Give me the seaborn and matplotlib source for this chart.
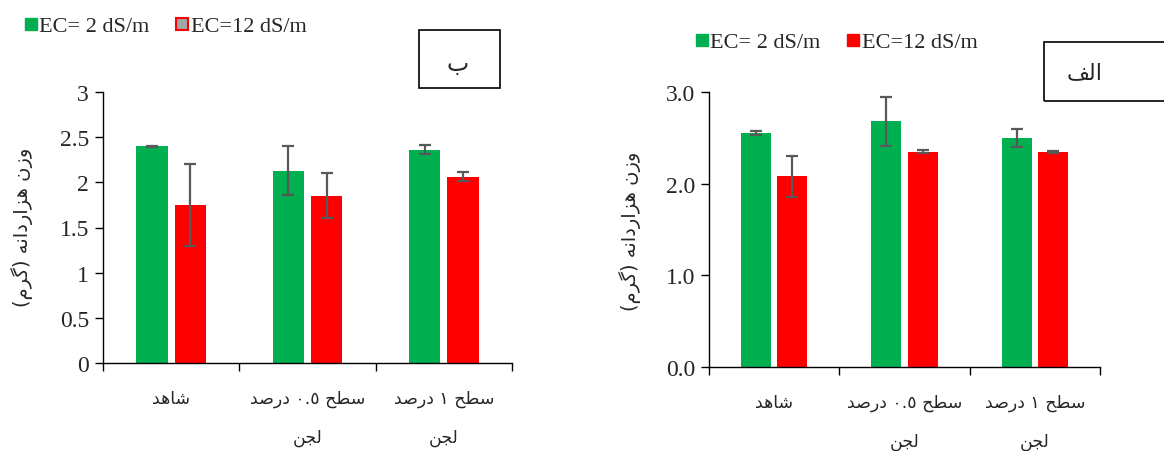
import re
import matplotlib
matplotlib.use("Agg")
import matplotlib.pyplot as plt
from matplotlib.lines import Line2D
from matplotlib.patches import Rectangle
from matplotlib.transforms import blended_transform_factory
import seaborn as sns
import pandas as pd

# ---------------- data ----------------
treatments = ["شاهد", "سطح ٠.٥ درصد\nلجن", "سطح ١ درصد\nلجن"]
ec_levels = ["EC= 2 dS/m", "EC=12 dS/m"]

# panel "ب"
b_low = [2.40, 2.13, 2.36]
b_high = [1.75, 1.85, 2.06]
b_low_err = [0.005, 0.27, 0.05]
b_high_err = [0.45, 0.25, 0.05]

# panel "الف"
a_low = [2.55, 2.68, 2.50]
a_high = [2.08, 2.35, 2.35]
a_low_err = [0.02, 0.27, 0.10]
a_high_err = [0.22, 0.02, 0.01]

y_label = "وزن هزاردانه (گرم)"
panel_names = ["ب", "الف"]

GREEN = "#00B050"
RED = "#FF0000"
ERR = "#595959"

# ---------------- Arabic-script shaping (presentation forms) ----------------
FORMS = {
    "ا": ("\uFE8D", "\uFE8E", None, None),
    "د": ("\uFEA9", "\uFEAA", None, None),
    "ر": ("\uFEAD", "\uFEAE", None, None),
    "ز": ("\uFEAF", "\uFEB0", None, None),
    "و": ("\uFEED", "\uFEEE", None, None),
    "ب": ("\uFE8F", "\uFE90", "\uFE91", "\uFE92"),
    "ج": ("\uFE9D", "\uFE9E", "\uFE9F", "\uFEA0"),
    "ح": ("\uFEA1", "\uFEA2", "\uFEA3", "\uFEA4"),
    "س": ("\uFEB1", "\uFEB2", "\uFEB3", "\uFEB4"),
    "ش": ("\uFEB5", "\uFEB6", "\uFEB7", "\uFEB8"),
    "ص": ("\uFEB9", "\uFEBA", "\uFEBB", "\uFEBC"),
    "ط": ("\uFEC1", "\uFEC2", "\uFEC3", "\uFEC4"),
    "ف": ("\uFED1", "\uFED2", "\uFED3", "\uFED4"),
    "ل": ("\uFEDD", "\uFEDE", "\uFEDF", "\uFEE0"),
    "م": ("\uFEE1", "\uFEE2", "\uFEE3", "\uFEE4"),
    "ن": ("\uFEE5", "\uFEE6", "\uFEE7", "\uFEE8"),
    "ه": ("\uFEE9", "\uFEEA", "\uFEEB", "\uFEEC"),
    "گ": ("\uFB92", "\uFB93", "\uFB94", "\uFB95"),
}


def shape_line(text):
    chars = list(text)
    out = []
    for i, c in enumerate(chars):
        if c not in FORMS:
            out.append(c)
            continue
        prev = chars[i - 1] if i > 0 else None
        nxt = chars[i + 1] if i + 1 < len(chars) else None
        join_prev = prev in FORMS and FORMS[prev][2] is not None
        join_next = nxt in FORMS and FORMS[c][2] is not None
        iso, fin, ini, med = FORMS[c]
        if join_prev and join_next:
            g = med
        elif join_prev:
            g = fin
        elif join_next:
            g = ini
        else:
            g = iso
        out.append(g)
    visual = "".join(reversed(out))
    visual = visual.translate(str.maketrans("()", ")("))
    visual = re.sub(r"[0-9\u0660-\u0669\u06F0-\u06F9.]+",
                    lambda m: m.group(0)[::-1], visual)
    return visual


def shape(text):
    return "\n".join(shape_line(t) for t in text.split("\n"))


# ---------------- style ----------------
sns.set_theme(style="white")
plt.rcParams["font.family"] = ["Liberation Serif", "DejaVu Sans"]
plt.rcParams["axes.linewidth"] = 1.0

W, H = 1164, 452
fig = plt.figure(figsize=(W / 100, H / 100), dpi=100)


def fx(px):
    return px / W


def fy(py):
    return 1 - py / H


def draw_panel(rect, low, high, low_err, high_err, tick_fmt, yticks, label_y):
    ax = fig.add_axes(rect)
    df = pd.DataFrame({
        "treatment": treatments * 2,
        "EC": [ec_levels[0]] * 3 + [ec_levels[1]] * 3,
        "value": low + high,
    })
    sns.barplot(data=df, x="treatment", y="value", hue="EC",
                order=treatments, hue_order=ec_levels,
                palette=[GREEN, RED], saturation=1, width=0.56, gap=0.18,
                errorbar=None, legend=False, ax=ax, linewidth=0)
    for cont, vals, errs in zip(ax.containers, [low, high], [low_err, high_err]):
        xs = [p.get_x() + p.get_width() / 2 for p in cont.patches]
        ax.errorbar(xs, vals, yerr=errs, fmt="none", ecolor=ERR,
                    elinewidth=1.6, capsize=4.5, capthick=1.6, zorder=5)
    ax.set_xlim(-0.5, 2.5)
    ax.set_ylim(0, 3)
    ax.set_xticks([-0.5, 0.5, 1.5, 2.5])
    ax.set_xticklabels([])
    ax.set_yticks(yticks)
    ax.set_yticklabels([tick_fmt(v) for v in yticks], fontsize=17)
    ax.set_xlabel("")
    ax.set_ylabel("")
    for s in ["top", "right"]:
        ax.spines[s].set_visible(False)
    for s in ["left", "bottom"]:
        ax.spines[s].set_color("black")
    ax.tick_params(axis="both", direction="out", color="black",
                   length=6, width=1, left=True, bottom=True, pad=4)
    tr = blended_transform_factory(ax.transData, fig.transFigure)
    for i, t in enumerate(treatments):
        lines = t.split("\n")
        ax.text(i, fy(label_y), shape(lines[0]), transform=tr,
                ha="center", va="center", fontsize=12.5, family="DejaVu Sans")
        if len(lines) > 1:
            ax.text(i, fy(label_y + 39), shape(lines[1]), transform=tr,
                    ha="center", va="center", fontsize=12.5, family="DejaVu Sans")
    return ax


# panel "ب" (left)
draw_panel([fx(103), fy(364), fx(512) - fx(103), fy(93) - fy(364)],
           b_low, b_high, b_low_err, b_high_err,
           lambda v: f"{v:g}", [0, 0.5, 1, 1.5, 2, 2.5, 3], 399)

# panel "الف" (right)
draw_panel([fx(709), fy(368), fx(1100) - fx(709), fy(93) - fy(368)],
           a_low, a_high, a_low_err, a_high_err,
           lambda v: f"{v:.1f}", [0, 1, 2, 3], 403)

# y axis titles
fig.text(fx(22), fy(227), shape(y_label), rotation=90, ha="center",
         va="center", fontsize=14, family="DejaVu Sans")
fig.text(fx(630), fy(231), shape(y_label), rotation=90, ha="center",
         va="center", fontsize=14, family="DejaVu Sans")

# legends
left_handles = [
    Line2D([], [], ls="none", marker="s", markersize=8.5, markerfacecolor=GREEN,
           markeredgecolor=GREEN),
    Line2D([], [], ls="none", marker="s", markersize=8.5, markerfacecolor="#A6A6A6",
           markeredgecolor=RED, markeredgewidth=1.5),
]
right_handles = [
    Line2D([], [], ls="none", marker="s", markersize=8.5, markerfacecolor=GREEN,
           markeredgecolor=GREEN),
    Line2D([], [], ls="none", marker="s", markersize=8.5, markerfacecolor=RED,
           markeredgecolor=RED),
]
fig.legend(left_handles, ec_levels, loc="center left",
           bbox_to_anchor=(fx(25), fy(27)), ncol=2, frameon=False,
           fontsize=16, handlelength=0.5, handletextpad=0.15,
           columnspacing=1.2, borderaxespad=0, borderpad=0)
fig.legend(right_handles, ec_levels, loc="center left",
           bbox_to_anchor=(fx(696), fy(43)), ncol=2, frameon=False,
           fontsize=16, handlelength=0.5, handletextpad=0.15,
           columnspacing=1.2, borderaxespad=0, borderpad=0)

# panel name boxes
fig.add_artist(Rectangle((fx(419), fy(89)), fx(500) - fx(419), fy(31) - fy(89),
                         transform=fig.transFigure, fill=False,
                         edgecolor="black", linewidth=1.2))
fig.text(fx(458), fy(64), shape(panel_names[0]), ha="center", va="center",
         fontsize=17, family="DejaVu Sans")
fig.add_artist(Rectangle((fx(1044), fy(102)), fx(1180) - fx(1044), fy(43) - fy(102),
                         transform=fig.transFigure, fill=False,
                         edgecolor="black", linewidth=1.2, clip_on=False))
fig.text(fx(1085), fy(73), shape(panel_names[1]), ha="center", va="center",
         fontsize=16, family="DejaVu Sans")

fig.savefig("out.png", dpi=100)
